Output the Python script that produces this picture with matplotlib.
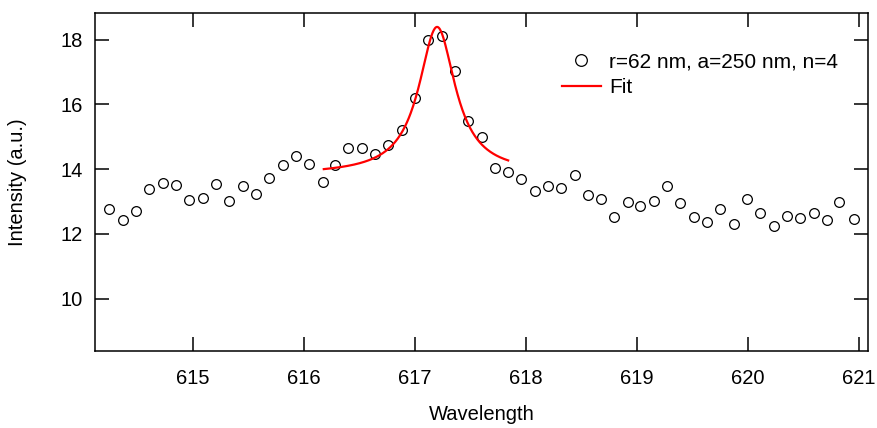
import numpy as np
import matplotlib.pyplot as plt

plt.rcParams['font.family'] = ['Liberation Sans', 'DejaVu Sans']

# measured spectrum
wavelength = [614.25, 614.37, 614.49, 614.61, 614.73, 614.85, 614.97, 615.09,
              615.21, 615.33, 615.45, 615.57, 615.69, 615.81, 615.93, 616.05,
              616.17, 616.28, 616.40, 616.52, 616.64, 616.76, 616.88, 617.00,
              617.12, 617.24, 617.36, 617.48, 617.60, 617.72, 617.84, 617.96,
              618.08, 618.20, 618.32, 618.44, 618.56, 618.68, 618.79, 618.92,
              619.03, 619.15, 619.27, 619.39, 619.51, 619.63, 619.75, 619.87,
              619.99, 620.11, 620.23, 620.35, 620.47, 620.59, 620.71, 620.82,
              620.95]
intensity = [12.78, 12.44, 12.70, 13.39, 13.57, 13.52, 13.04, 13.12,
             13.53, 13.00, 13.47, 13.23, 13.72, 14.12, 14.40, 14.17,
             13.60, 14.12, 14.66, 14.65, 14.45, 14.74, 15.20, 16.21,
             17.98, 18.10, 17.03, 15.47, 15.00, 14.02, 13.91, 13.70,
             13.33, 13.47, 13.43, 13.81, 13.20, 13.09, 12.52, 12.98,
             12.85, 13.00, 13.47, 12.95, 12.52, 12.37, 12.78, 12.31,
             13.08, 12.64, 12.23, 12.54, 12.50, 12.65, 12.42, 12.99,
             12.47]

# Lorentzian fit parameters (offset, slope, amplitude, centre, HWHM) and range
fit_y0, fit_slope, fit_amp, fit_x0, fit_w = 13.85, 0.02, 4.54, 617.2, 0.2
fit_range = (616.18, 617.84)

xf = np.linspace(fit_range[0], fit_range[1], 300)
yf = fit_y0 + fit_slope * (xf - fit_x0) + fit_amp / (1 + ((xf - fit_x0) / fit_w) ** 2)

fig = plt.figure(figsize=(8.78, 4.28), dpi=100)
ax = fig.add_axes([95 / 878, 77 / 428, 773 / 878, 338 / 428])

ax.plot(wavelength, intensity, 'o', mfc='none', mec='black', ms=7, mew=0.9,
        label='r=62 nm, a=250 nm, n=4')
ax.plot(xf, yf, color='red', lw=1.6, label='Fit')

ax.set_xlim(614.12, 621.08)
ax.set_ylim(8.38, 18.82)
ax.set_xticks([615, 616, 617, 618, 619, 620, 621])
ax.set_yticks([10, 12, 14, 16, 18])

for s in ax.spines.values():
    s.set_linewidth(1.1)
ax.tick_params(direction='in', length=10, width=1.1, top=True, right=True,
               labelsize=14.5, pad=13)
ax.tick_params(axis='y', pad=9)

ax.set_xlabel('Wavelength', fontsize=14.5, labelpad=12)
ax.set_ylabel('Intensity (a.u.)', fontsize=14.5, labelpad=24)

ax.legend(loc='upper left', bbox_to_anchor=((562 - 95) / 773, 1 - (52 - 13) / 338),
          frameon=False, fontsize=15, borderpad=0, borderaxespad=0,
          handlelength=1.85, handletextpad=0.4, labelspacing=0.35,
          markerscale=1.2)

fig.savefig('out.png', dpi=100)
